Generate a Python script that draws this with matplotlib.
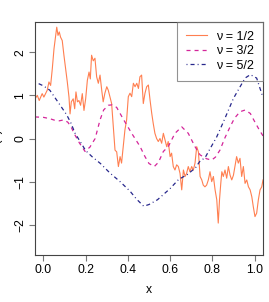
import matplotlib as mpl
mpl.use('Agg')
import matplotlib.pyplot as plt

plt.rcParams['font.family'] = ['Liberation Sans', 'DejaVu Sans']
plt.rcParams['lines.scale_dashes'] = False

# nu = 1/2 (rough path)
x_half = [-0.040, -0.029, -0.020, -0.006, 0.002, 0.018, 0.026, 0.034, 0.042, 0.050,
          0.058, 0.063, 0.069, 0.075, 0.081, 0.089, 0.097, 0.105, 0.113, 0.121,
          0.126, 0.132, 0.141, 0.148, 0.154, 0.161, 0.168, 0.176, 0.184, 0.192,
          0.200, 0.208, 0.216, 0.222, 0.228, 0.236, 0.244, 0.252, 0.260, 0.268,
          0.276, 0.283, 0.291, 0.300, 0.307, 0.315, 0.323, 0.331, 0.339, 0.347,
          0.355, 0.363, 0.370, 0.378, 0.386, 0.394, 0.402, 0.410, 0.418, 0.426,
          0.434, 0.442, 0.450, 0.457, 0.465, 0.473, 0.481, 0.489, 0.497, 0.505,
          0.513, 0.520, 0.528, 0.536, 0.544, 0.552, 0.560, 0.568, 0.576, 0.584,
          0.591, 0.600, 0.607, 0.615, 0.623, 0.631, 0.639, 0.647, 0.655, 0.663,
          0.671, 0.678, 0.686, 0.694, 0.702, 0.710, 0.718, 0.726, 0.734, 0.742,
          0.750, 0.757, 0.765, 0.773, 0.781, 0.789, 0.797, 0.805, 0.813, 0.821,
          0.828, 0.834, 0.840, 0.845, 0.852, 0.860, 0.868, 0.876, 0.884, 0.892,
          0.900, 0.907, 0.915, 0.923, 0.931, 0.939, 0.947, 0.955, 0.963, 0.971,
          0.979, 0.987, 0.994, 1.002, 1.010, 1.018, 1.026, 1.034, 1.040]
y_half = [0.92, 1.00, 0.88, 1.04, 0.96, 1.12, 1.31, 1.23, 1.62, 2.08,
          2.39, 2.58, 2.39, 2.47, 2.35, 2.27, 1.93, 1.62, 1.31, 0.96,
          0.57, 0.85, 0.92, 0.69, 1.08, 0.85, 0.88, 0.77, 1.04, 0.65,
          0.92, 1.35, 1.54, 1.38, 1.93, 1.80, 1.86, 1.43, 1.28, 1.47,
          1.12, 0.85, 1.05, 1.20, 1.12, 0.97, 0.81, 0.27, -0.27, -0.31,
          -0.65, -0.42, -0.57, -0.19, 0.20, 0.43, 0.97, 1.05, 0.97, 1.28,
          1.20, 1.28, 1.16, 1.43, 1.47, 0.81, 1.05, 1.20, 1.24, 0.89,
          0.58, 0.35, 0.12, 0.00, -0.07, 0.00, -0.11, 0.12, -0.03, -0.19,
          -0.07, -0.42, -0.34, -0.65, -0.73, -0.61, -0.65, -0.81, -1.19, -0.73,
          -0.88, -0.81, -0.65, -0.77, -0.65, -0.73, -0.57, -0.19, -0.31, -0.88,
          -0.96, -1.08, -1.12, -1.08, -0.96, -0.77, -1.00, -0.88, -1.19, -1.42,
          -1.96, -1.42, -1.04, -0.77, -0.88, -0.73, -0.92, -0.65, -0.85, -0.96,
          -0.85, -0.65, -0.42, -0.57, -0.46, -0.88, -0.65, -1.04, -0.96, -1.12,
          -1.19, -1.35, -1.58, -1.81, -1.73, -1.42, -1.19, -1.12, -0.96]

# nu = 3/2
x_three = [-0.040, 0.000, 0.030, 0.055, 0.075, 0.095, 0.115, 0.130, 0.145, 0.170,
           0.197, 0.220, 0.245, 0.268, 0.285, 0.307, 0.325, 0.347, 0.378, 0.418,
           0.457, 0.481, 0.500, 0.525, 0.545, 0.568, 0.591, 0.623, 0.655, 0.686,
           0.718, 0.742, 0.773, 0.797, 0.815, 0.836, 0.860, 0.884, 0.905, 0.931,
           0.955, 0.980, 0.994, 1.020, 1.040]
y_three = [0.50, 0.49, 0.46, 0.42, 0.41, 0.43, 0.38, 0.28, 0.12, -0.10,
           -0.30, -0.20, 0.00, 0.43, 0.66, 0.77, 0.78, 0.72, 0.45, 0.12,
           -0.18, -0.42, -0.58, -0.65, -0.55, -0.30, -0.19, 0.12, 0.27, 0.12,
           -0.19, -0.38, -0.47, -0.50, -0.43, -0.27, 0.02, 0.27, 0.47, 0.62,
           0.66, 0.58, 0.45, 0.22, 0.06]

# nu = 5/2
x_five = [-0.040, 0.000, 0.030, 0.078, 0.110, 0.130, 0.150, 0.175, 0.200, 0.230,
          0.270, 0.315, 0.363, 0.410, 0.440, 0.475, 0.500, 0.540, 0.600, 0.640,
          0.680, 0.720, 0.742, 0.765, 0.790, 0.820, 0.852, 0.900, 0.955, 0.980,
          1.010, 1.040]
y_five = [1.31, 1.22, 1.12, 0.78, 0.55, 0.36, 0.12, -0.08, -0.28, -0.42,
          -0.58, -0.80, -1.00, -1.22, -1.40, -1.57, -1.53, -1.42, -1.16, -0.95,
          -0.84, -0.68, -0.52, -0.45, -0.23, 0.03, 0.38, 0.93, 1.40, 1.48,
          1.40, 0.95]

xticks = [0.0, 0.2, 0.4, 0.6, 0.8, 1.0]
yticks = [-2, -1, 0, 1, 2]
labels = ['\u03bd = 1/2', '\u03bd = 3/2', '\u03bd = 5/2']

fig = plt.figure(figsize=(2.69, 3.02), dpi=100)
ax = fig.add_axes([35 / 269, 1 - 255 / 302, 228 / 269, 233 / 302])

ax.plot(x_half, y_half, color='#FF7F50', lw=0.8, label=labels[0])
ax.plot(x_three, y_three, color='#D4259A', lw=0.9, dashes=(2.9, 2.9), label=labels[1])
ax.plot(x_five, y_five, color='#27278C', lw=0.9, dashes=(0.7, 2.2, 2.9, 2.2), label=labels[2])

ax.set_xlim(-0.04, 1.04)
ax.set_ylim(-2.7, 2.7)
ax.set_xticks(xticks)
ax.set_xticklabels(['%.1f' % v for v in xticks])
ax.set_yticks(yticks)
ax.set_yticklabels([str(v).replace('-', '\u2212') for v in yticks], rotation=90, va='center')

for s in ax.spines.values():
    s.set_color('#444444')
    s.set_linewidth(0.8)
ax.tick_params(length=4.3, width=0.8, color='#777777', labelsize=8.7, pad=2)

ax.set_xlabel('x', fontsize=8.7, labelpad=6)
fig.text(-0.012, 0.54, 'Z(x)', rotation=90, ha='center', va='center', fontsize=8.7)

leg = ax.legend(loc='upper right', borderaxespad=0, fontsize=9, fancybox=False,
                handlelength=1.7, handletextpad=0.75, labelspacing=0.2, borderpad=0.7)
leg.get_frame().set_edgecolor('#777777')
leg.get_frame().set_facecolor('none')
leg.get_frame().set_linewidth(0.8)

plt.savefig('out.png', dpi=100)
plt.close('all')
